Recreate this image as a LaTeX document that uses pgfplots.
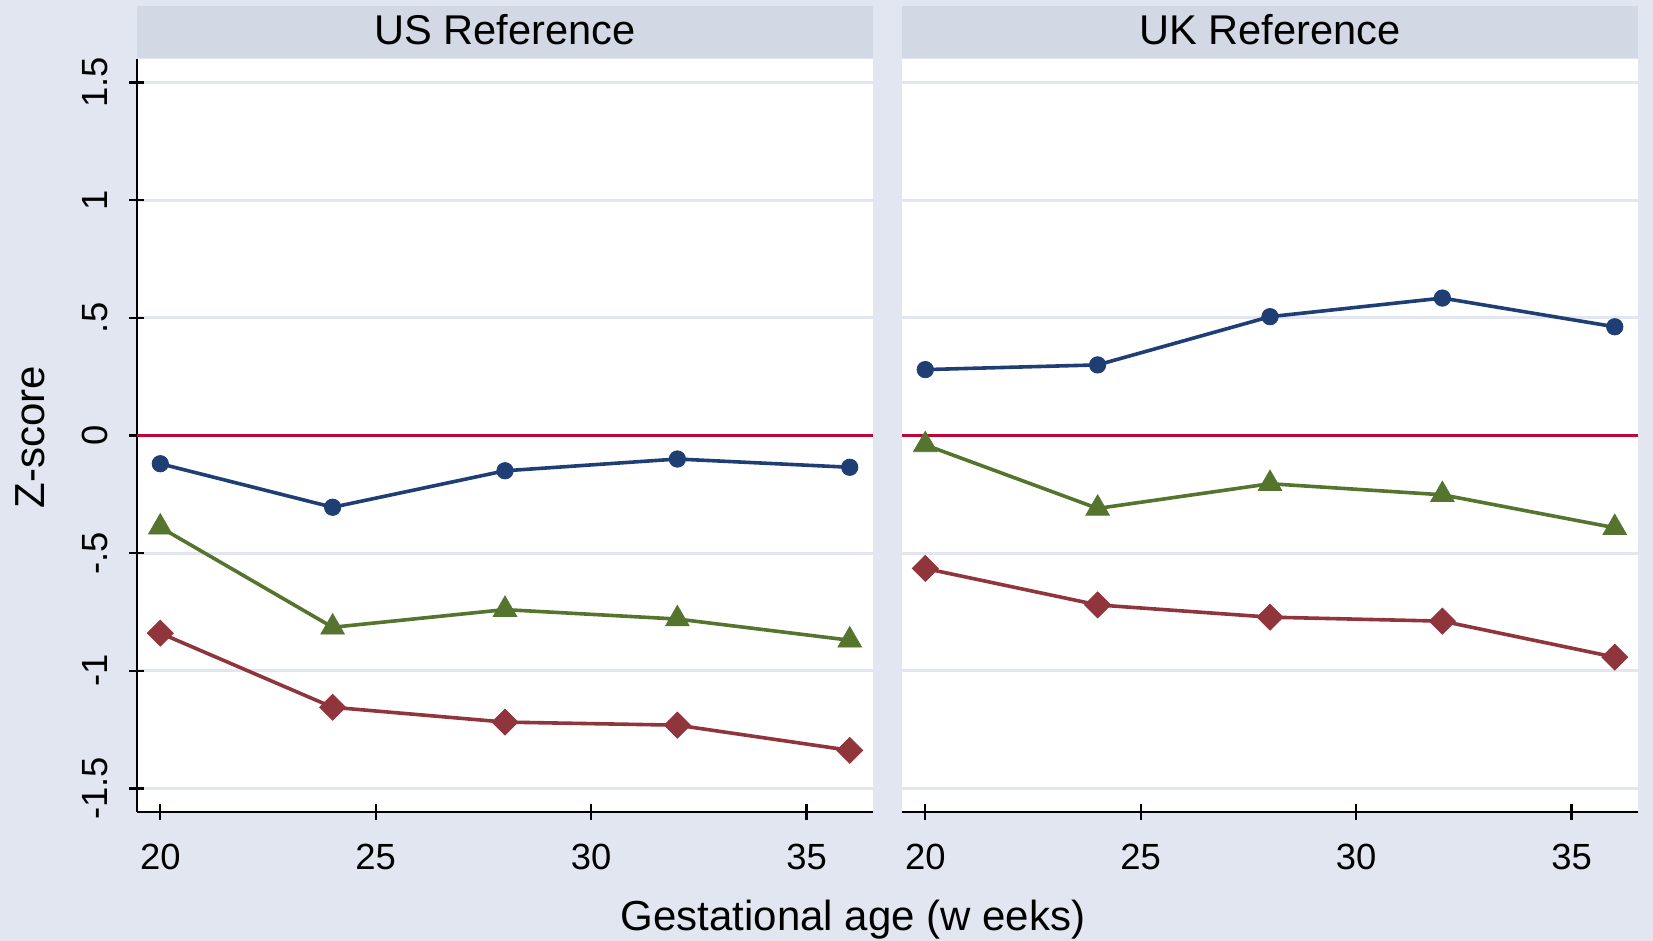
\documentclass[border=0pt]{standalone}
\usepackage{fontspec}
\setmainfont{Liberation Sans}
\usepackage{pgfplots}
\pgfplotsset{compat=1.18}
\definecolor{bg}{HTML}{E1E6F0}
\definecolor{hdr}{HTML}{D3D9E4}
\definecolor{sblue}{HTML}{1F3F74}
\definecolor{sgreen}{HTML}{55752F}
\definecolor{smaroon}{HTML}{90353B}
\definecolor{scran}{HTML}{C10534}

\pgfplotsset{
  panel/.style={
    scale only axis, width=368pt, height=376.5pt,
    xmin=19.46, xmax=36.54, ymin=-1.6, ymax=1.6,
    axis background/.style={fill=white},
    xtick={20,25,30,35},
    ytick={-1.5,-1,-0.5,0,0.5,1,1.5},
    ymajorgrids, grid style={bg, line width=1.5pt},
    tick align=outside, major tick length=7.5pt,
    tick style={black, line width=1.2pt},
    axis x line=bottom, axis y line=left,
    axis line style={-, black, line width=1.2pt},
    /pgf/number format/assume math mode=true,
    xticklabel style={font=\fontsize{18.2}{18.2}\selectfont, anchor=base, inner sep=0pt, yshift=-25pt},
  },
  sblueln/.style={sblue, line width=1.8pt, mark=*, mark size=4.1pt, mark options={solid, line width=0.4pt}},
  sgreenln/.style={sgreen, line width=1.8pt, mark=triangle*, mark size=6.8pt, mark options={solid, line width=0.4pt}},
  sredln/.style={smaroon, line width=1.8pt, mark=square*, mark size=4.6pt, mark options={solid, rotate=45, line width=0.4pt}},
}

\begin{document}
\begin{tikzpicture}
\fill[bg] (-68.5pt,-64.5pt) rectangle (758pt,406pt);
\fill[hdr] (0pt,377pt) rectangle (368pt,403pt);
\fill[hdr] (382.5pt,377pt) rectangle (750.5pt,403pt);

\begin{axis}[panel, at={(0pt,0pt)}, anchor=south west,
  yticklabels={-1.5,-1,-.5,0,.5,1,1.5},
  yticklabel style={font=\fontsize{18.2}{18.2}\selectfont, xshift=-11.2pt, rotate=90, anchor=base, inner sep=0pt},
]
\addplot[scran, line width=1.8pt, forget plot] coordinates {(19.46,0) (36.54,0)};
\addplot[sblueln] coordinates {(20,-0.12) (24,-0.305) (28,-0.15) (32,-0.10) (36,-0.135)};
\addplot[sgreenln] coordinates {(20,-0.39) (24,-0.815) (28,-0.74) (32,-0.78) (36,-0.87)};
\addplot[sredln] coordinates {(20,-0.84) (24,-1.155) (28,-1.218) (32,-1.231) (36,-1.338)};
\end{axis}

\begin{axis}[panel, at={(382.5pt,0pt)}, anchor=south west,
  yticklabels={}, y axis line style={draw=none}, ytick style={draw=none},
]
\addplot[scran, line width=1.8pt, forget plot] coordinates {(19.46,0) (36.54,0)};
\addplot[sblueln] coordinates {(20,0.28) (24,0.30) (28,0.505) (32,0.584) (36,0.462)};
\addplot[sgreenln] coordinates {(20,-0.04) (24,-0.31) (28,-0.205) (32,-0.252) (36,-0.392)};
\addplot[sredln] coordinates {(20,-0.565) (24,-0.72) (28,-0.772) (32,-0.789) (36,-0.942)};
\end{axis}

\node[anchor=base, font=\fontsize{20.8}{20.8}\selectfont, inner sep=0pt] at (184pt,383.5pt) {US Reference};
\node[anchor=base, font=\fontsize{20.8}{20.8}\selectfont, inner sep=0pt] at (566.5pt,383.5pt) {UK Reference};
\node[anchor=base, font=\fontsize{21}{21}\selectfont, inner sep=0pt] at (358pt,-59.5pt) {Gestational age (w eeks)};
\node[rotate=90, anchor=base, font=\fontsize{21}{21}\selectfont, inner sep=0pt] at (-46pt,187.5pt) {Z-score};

\pgfresetboundingbox
\path[use as bounding box] (-68.5pt,-64.5pt) rectangle (758pt,406pt);
\end{tikzpicture}
\end{document}
